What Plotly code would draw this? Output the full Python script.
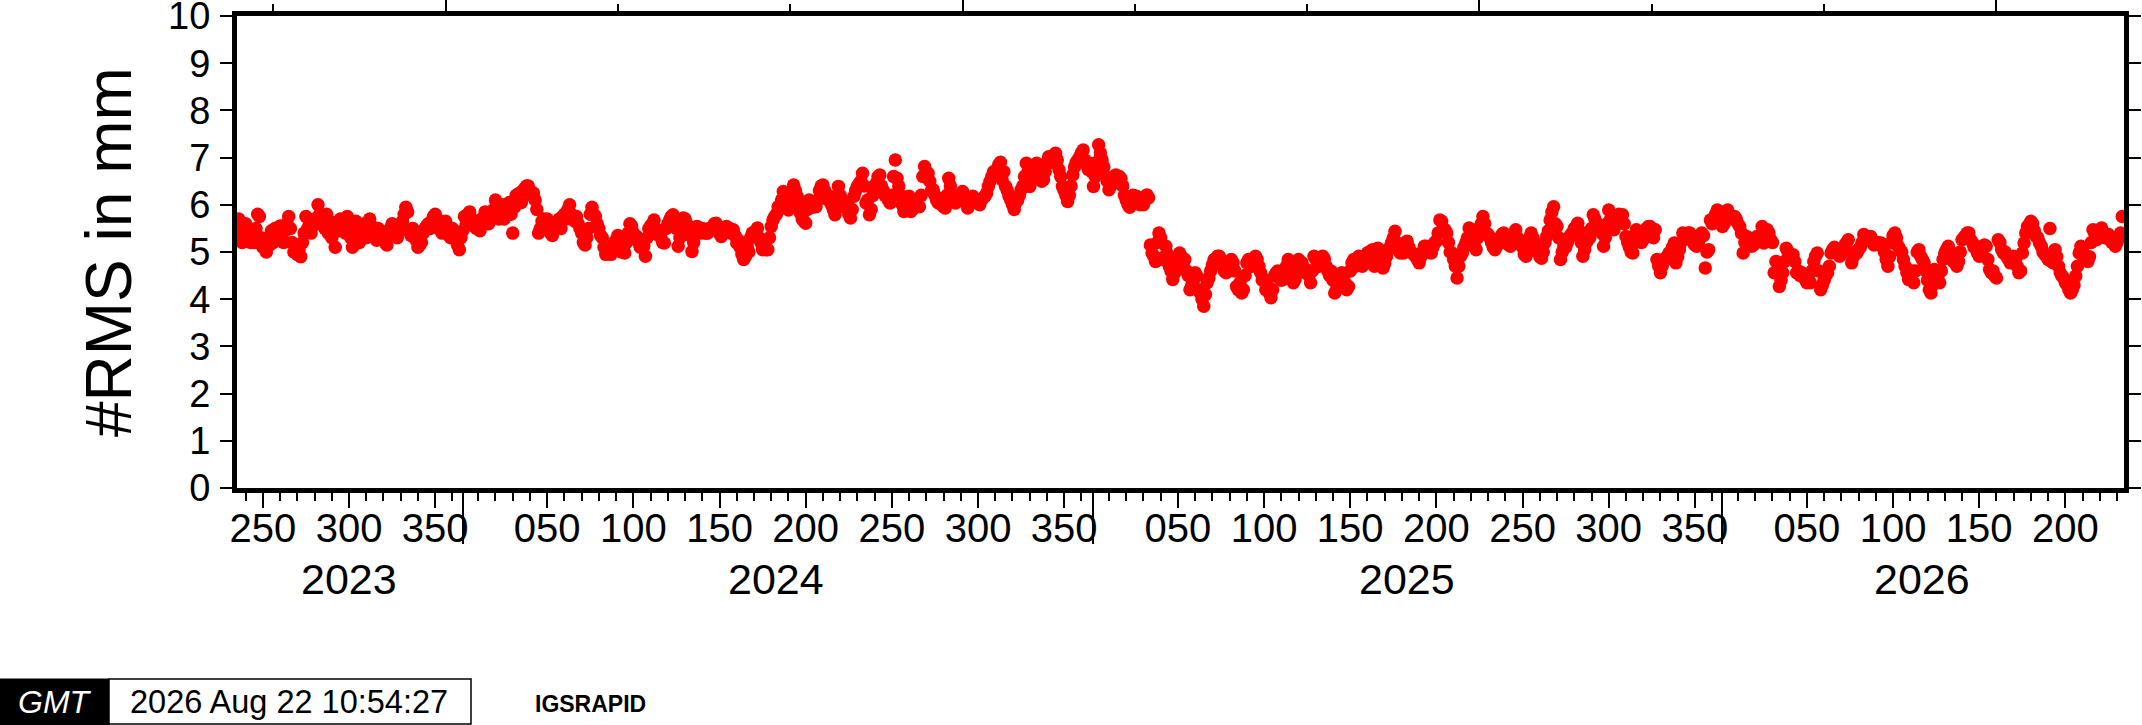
import datetime as dt

import plotly.graph_objects as go


# daily RMS values (mm), one value per day starting 2023-08-23
rms_seg1 = [
    5.3, 5.7, 5.5, 5.2, 5.4, 5.6, 5.3, 5.5, 5.2, 5.4,
    5.2, 5.5, 5.8, 5.75, 5.3, 5.1, 5.2, 5.0, 5.3, 5.15,
    5.45, 5.2, 5.5, 5.3, 5.4, 5.55, 5.3, 5.2, 5.45, 5.6,
    5.75, 5.5, 5.2, 5.0, 5.1, 4.95, 5.05, 4.9, 5.2, 5.4,
    5.75, 5.5, 5.6, 5.4, 5.55, 5.7, 5.6, 6.0, 5.8, 5.6,
    5.65, 5.5, 5.8, 5.4, 5.65, 5.3, 5.5, 5.1, 5.6, 5.45,
    5.7, 5.5, 5.6, 5.4, 5.75, 5.6, 5.3, 5.1, 5.45, 5.65,
    5.5, 5.2, 5.35, 5.5, 5.6, 5.3, 5.45, 5.7, 5.55, 5.35,
    5.4, 5.25, 5.5, 5.45, 5.3, 5.35, 5.2, 5.15, 5.4, 5.5,
    5.6, 5.55, 5.4, 5.3, 5.5, 5.45, 5.65, 5.8, 5.95, 5.85,
    5.45, 5.35, 5.5, 5.3, 5.25, 5.1, 5.15, 5.2, 5.4, 5.5,
    5.55, 5.6, 5.5, 5.65, 5.75, 5.8, 5.7, 5.5, 5.6, 5.4,
    5.5, 5.65, 5.45, 5.35, 5.3, 5.5, 5.4, 5.25, 5.15, 5.05,
    5.3, 5.45, 5.75, 5.6, 5.8, 5.85, 5.7, 5.55, 5.6, 5.5,
    5.65, 5.45, 5.7, 5.6, 5.85, 5.75, 5.6, 5.85, 5.7, 5.9,
    6.1, 5.95, 5.7, 5.8, 6.0, 5.7, 5.9, 6.0, 6.05, 5.8,
    5.4, 5.95, 6.2, 6.1, 6.25, 6.05, 6.3, 6.35, 6.4, 6.4,
    6.3, 6.2, 6.25, 6.1, 5.9, 5.4, 5.5, 5.65, 5.7, 5.55,
    5.7, 5.5, 5.4, 5.35, 5.6, 5.5, 5.65, 5.7, 5.5, 5.75,
    5.8, 5.7, 5.9, 6.0, 5.8, 5.75, 5.65, 5.75, 5.6, 5.5,
    5.4, 5.2, 5.15, 5.3, 5.5, 5.8, 5.95, 5.8, 5.75, 5.6,
    5.5, 5.35, 5.3, 5.1, 4.95, 5.0, 5.05, 4.95, 5.1, 5.2,
]
rms_seg2 = [
    5.25, 5.35, 5.15, 5.0, 5.1, 4.98, 5.2, 5.4, 5.6, 5.55,
    5.4, 5.3, 5.33, 5.2, 5.1, 5.15, 5.12, 4.91, 5.3, 5.5,
    5.55, 5.6, 5.68, 5.5, 5.37, 5.4, 5.3, 5.2, 5.19, 5.5,
    5.6, 5.68, 5.75, 5.79, 5.6, 5.5, 5.12, 5.3, 5.6, 5.72,
    5.7, 5.6, 5.4, 5.35, 5.01, 5.2, 5.5, 5.54, 5.45, 5.4,
    5.5, 5.45, 5.4, 5.4, 5.5, 5.47, 5.5, 5.6, 5.61, 5.5,
    5.4, 5.33, 5.4, 5.5, 5.54, 5.45, 5.5, 5.4, 5.47, 5.35,
    5.19, 5.25, 5.1, 4.95, 4.84, 4.9, 5.12, 5.0, 5.3, 5.4,
    5.33, 5.45, 5.51, 5.3, 5.2, 5.05, 5.1, 5.05, 5.05, 5.3,
    5.54, 5.68, 5.75, 5.8, 5.96, 5.96, 6.1, 6.28, 6.1, 6.0,
    5.89, 6.0, 6.2, 6.42, 6.3, 6.18, 6.0, 5.82, 5.7, 5.65,
    5.61, 5.9, 6.1, 6.0, 5.95, 6.05, 5.96, 6.1, 6.3, 6.4,
    6.42, 6.3, 6.2, 6.1, 6.18, 6.0, 5.9, 5.79, 6.1, 6.39,
    6.2, 6.1, 5.96, 6.0, 6.05, 5.8, 5.72, 5.9, 6.18, 6.3,
    6.39, 6.45, 6.5, 6.67, 6.4, 6.04, 6.1, 5.79, 5.9, 6.2,
    6.4, 6.46, 6.6, 6.63, 6.4, 6.3, 6.2, 6.18, 6.1, 6.04,
    6.2, 6.6, 6.95, 6.56, 6.4, 6.2, 6.0, 5.86, 6.0, 6.1,
    6.18, 5.86, 5.9, 6.0, 6.05, 6.0, 5.96, 6.2, 6.6, 6.81,
    6.7, 6.67, 6.5, 6.3, 6.32, 6.2, 6.1, 6.04, 6.1, 6.0,
    5.96, 5.93, 6.2, 6.56, 6.4, 6.2, 6.1, 6.04, 6.1, 6.15,
    6.2, 6.28, 6.2, 6.05, 5.93, 6.0, 6.1, 6.18, 6.1, 6.1,
    6.04, 6.0, 6.1, 6.15, 6.18, 6.25, 6.39, 6.5, 6.6, 6.7,
]
rms_seg3 = [
    6.67, 6.75, 6.85, 6.9, 6.53, 6.7, 6.39, 6.3, 6.18, 6.1,
    6.0, 5.9, 6.05, 6.1, 6.2, 6.32, 6.4, 6.6, 6.88, 6.7,
    6.39, 6.5, 6.6, 6.7, 6.88, 6.74, 6.6, 6.5, 6.53, 6.7,
    6.9, 7.02, 7.0, 6.9, 7.05, 7.09, 6.95, 6.74, 6.6, 6.39,
    6.3, 6.2, 6.07, 6.2, 6.4, 6.63, 6.8, 6.9, 6.95, 7.02,
    7.1, 7.16, 6.95, 6.85, 6.75, 6.88, 6.7, 6.39, 6.6, 6.9,
    7.27, 7.1, 6.95, 6.8, 6.6, 6.5, 6.32, 6.4, 6.5, 6.6,
    6.63, 6.5, 6.6, 6.55, 6.4, 6.2, 6.1, 6.0, 5.95, 6.1,
    6.2, 6.15, 6.18, 6.1, 6.0, 6.07, 6.0, 6.1, 6.21, 6.15,
    5.15, 4.98, 4.91, 4.8, 5.2, 5.4, 5.3, 4.84, 4.9, 5.12,
    4.95, 4.7, 4.6, 4.42, 4.55, 4.7, 4.85, 4.98, 4.9, 4.75,
    4.84, 4.6, 4.5, 4.2, 4.3, 4.4, 4.56, 4.49, 4.2, 4.13,
    4.0, 3.85, 4.1, 4.35, 4.45, 4.6, 4.73, 4.84, 4.8, 4.91,
    4.91, 4.8, 4.7, 4.59, 4.56, 4.7, 4.77, 4.84, 4.77, 4.6,
    4.27, 4.2, 4.35, 4.13, 4.2, 4.5, 4.77, 4.84, 4.77, 4.7,
    4.84, 4.91, 4.84, 4.7, 4.56, 4.4, 4.42, 4.2, 4.27, 4.13,
    4.03, 4.2, 4.49, 4.56, 4.6, 4.5, 4.4, 4.42, 4.55, 4.7,
    4.84, 4.77, 4.6, 4.35, 4.42, 4.6, 4.84, 4.7, 4.77, 4.65,
    4.56, 4.62, 4.5, 4.35, 4.6, 4.91, 4.85, 4.77, 4.7, 4.84,
    4.91, 4.85, 4.7, 4.6, 4.5, 4.59, 4.4, 4.13, 4.2, 4.27,
    4.4, 4.56, 4.45, 4.35, 4.2, 4.27, 4.6, 4.77, 4.84, 4.7,
    4.84, 4.91, 4.8, 4.7, 4.77, 4.84, 4.98, 5.0, 4.9, 5.05,
]
rms_seg4 = [
    4.7, 4.9, 5.08, 5.0, 4.85, 4.66, 4.75, 4.9, 5.05, 5.1,
    5.2, 5.3, 5.44, 5.2, 5.05, 4.98, 5.1, 4.98, 5.15, 5.23,
    5.1, 5.0, 4.98, 4.95, 4.9, 4.84, 4.77, 4.9, 5.0, 5.12,
    5.12, 5.05, 5.0, 4.98, 5.1, 5.2, 5.23, 5.4, 5.68, 5.65,
    5.5, 5.47, 5.4, 5.2, 5.0, 4.98, 4.84, 4.7, 4.45, 4.7,
    4.91, 4.98, 5.1, 5.19, 5.3, 5.51, 5.4, 5.2, 5.12, 5.05,
    5.3, 5.5, 5.6, 5.75, 5.6, 5.4, 5.37, 5.3, 5.2, 5.1,
    5.05, 5.12, 5.2, 5.3, 5.37, 5.4, 5.3, 5.2, 5.15, 5.12,
    5.2, 5.35, 5.47, 5.3, 5.26, 5.2, 5.1, 4.95, 4.91, 5.0,
    5.3, 5.4, 5.3, 5.2, 5.12, 5.0, 4.9, 4.87, 5.0, 5.2,
    5.33, 5.45, 5.68, 5.85, 5.96, 5.6, 5.54, 5.3, 4.84, 5.0,
    5.12, 5.1, 5.2, 5.3, 5.37, 5.4, 5.5, 5.54, 5.61, 5.45,
    5.2, 4.91, 5.05, 5.2, 5.26, 5.3, 5.5, 5.79, 5.7, 5.6,
    5.5, 5.47, 5.4, 5.12, 5.3, 5.6, 5.89, 5.7, 5.54, 5.47,
    5.6, 5.72, 5.8, 5.75, 5.79, 5.6, 5.33, 5.2, 5.1, 5.0,
    4.98, 5.2, 5.47, 5.4, 5.3, 5.2, 5.26, 5.4, 5.5, 5.54,
    5.54, 5.5, 5.3, 5.47, 4.84, 4.7, 4.56, 4.7, 4.8, 4.87,
    4.91, 4.98, 5.0, 5.1, 5.19, 4.77, 4.9, 5.05, 5.2, 5.4,
    5.37, 5.3, 5.4, 5.4, 5.35, 5.2, 5.15, 5.12, 5.2, 5.3,
    5.4, 5.35, 4.66, 5.0, 5.05, 5.68, 5.6, 5.7, 5.8, 5.89,
    5.8, 5.6, 5.54, 5.6, 5.7, 5.89, 5.8, 5.7, 5.75, 5.75,
    5.7, 5.6, 5.54, 5.4, 4.98, 5.2, 5.33, 5.3, 5.2, 5.12,
]
rms_seg5 = [
    5.15, 5.25, 5.33, 5.3, 5.3, 5.54, 5.19, 5.3, 5.47, 5.4,
    5.26, 5.2, 4.56, 4.8, 4.6, 4.27, 4.4, 4.56, 4.8, 5.08,
    5.0, 4.95, 4.9, 4.94, 4.8, 4.56, 4.6, 4.5, 4.56, 4.49,
    4.42, 4.35, 4.4, 4.35, 4.6, 4.8, 4.91, 4.98, 4.6, 4.2,
    4.3, 4.4, 4.5, 4.56, 4.7, 4.98, 5.05, 5.1, 5.05, 5.0,
    4.91, 4.95, 5.0, 5.15, 5.2, 5.26, 5.0, 4.77, 4.9, 5.0,
    4.98, 5.05, 5.1, 5.2, 5.37, 5.33, 5.26, 5.3, 5.33, 5.2,
    5.15, 5.19, 5.2, 5.15, 5.19, 5.12, 5.0, 4.84, 4.7, 4.9,
    5.2, 5.35, 5.4, 5.3, 5.12, 5.05, 5.0, 4.84, 4.7, 4.56,
    4.42, 4.5, 4.6, 4.35, 4.6, 5.0, 5.05, 4.91, 4.84, 4.77,
    4.6, 4.4, 4.2, 4.13, 4.3, 4.63, 4.5, 4.42, 4.35, 4.6,
    4.84, 4.98, 5.05, 5.12, 5.0, 4.91, 4.8, 4.77, 4.7, 4.8,
    5.0, 5.26, 5.3, 5.35, 5.4, 5.4, 5.26, 5.2, 5.1, 5.12,
    4.98, 4.91, 5.0, 5.08, 5.15, 5.12, 4.84, 4.63, 4.56, 4.6,
    4.49, 4.45, 5.26, 5.2, 5.05, 4.98, 5.0, 4.9, 4.84, 4.77,
    4.84, 4.91, 4.84, 4.7, 4.56, 4.6, 4.98, 5.19, 5.4, 5.54,
    5.58, 5.65, 5.6, 5.45, 5.33, 5.3, 5.19, 5.12, 5.0, 4.95,
    4.91, 4.84, 5.5, 4.8, 4.77, 5.05, 4.9, 4.7, 4.56, 4.49,
    4.45, 4.35, 4.3, 4.2, 4.13, 4.2, 4.3, 4.49, 4.7, 4.98,
    5.12, 5.05, 4.84, 4.91, 4.8, 4.9, 5.2, 5.47, 5.4, 5.26,
    5.3, 5.45, 5.51, 5.33, 5.3, 5.3, 5.37, 5.26, 5.2, 5.3,
    5.12, 5.2, 5.3, 5.4, 5.75,
]

start = dt.date(2023, 8, 23)
end = dt.date(2026, 8, 22)
years = [2023, 2024, 2025, 2026]
timestamp = "2026 Aug 22 10:54:27"
label = "IGSRAPID"

rms = rms_seg1 + rms_seg2 + rms_seg3 + rms_seg4 + rms_seg5
dates = [start + dt.timedelta(days=i) for i in range(len(rms))]

# day-of-year ticks (bottom)
doy_vals, doy_text, doy_minor = [], [], []
for yr in years:
    jan1 = dt.date(yr, 1, 1)
    for doy in range(10, 370, 10):
        d = jan1 + dt.timedelta(days=doy - 1)
        if d.year != yr or not (start <= d <= end):
            continue
        if doy % 50 == 0:
            doy_vals.append(d)
            doy_text.append(f"{doy:03d}")
        else:
            doy_minor.append(d)
year_bounds = [dt.date(yr, 1, 1) for yr in years if start < dt.date(yr, 1, 1) < end]

# MJD ticks (top)
mjd0 = dt.date(1858, 11, 17)
mjd_major, mjd_minor = [], []
for m in range(60000, 61500, 100):
    d = mjd0 + dt.timedelta(days=m)
    if start <= d <= end:
        (mjd_major if m % 300 == 0 else mjd_minor).append(d)

FONT = "Liberation Sans"
W, H = 2142, 725
L, R, T, B = 237, 18, 16, 237
pw, ph = W - L - R, H - T - B


def px(x):
    return (x - L) / pw


def py(y):
    return (H - B - y) / ph


fig = go.Figure()
fig.add_trace(go.Scatter(
    x=dates, y=rms, mode="markers",
    marker=dict(size=13.5, color="#ff0000", line=dict(width=0)),
    hoverinfo="x+y",
))
# empty traces so the extra tick axes are drawn
for ax in ("x2", "x3", "x4"):
    fig.add_trace(go.Scatter(x=[], y=[], xaxis=ax, yaxis="y", showlegend=False))

common = dict(type="date", range=[start, end], showgrid=False, zeroline=False,
              automargin=False)

fig.update_layout(
    width=W, height=H,
    margin=dict(l=L, r=R, t=T, b=B, autoexpand=False),
    paper_bgcolor="white", plot_bgcolor="white",
    showlegend=False,
    font=dict(family=FONT, color="black"),
    xaxis=dict(
        **common,
        tickmode="array", tickvals=doy_vals,
        ticks="outside", ticklen=15, tickwidth=2, tickcolor="black",
        showticklabels=False,
        showline=True, linewidth=5, linecolor="black",
        minor=dict(tickmode="array", tickvals=doy_minor, ticks="outside",
                   ticklen=8, tickwidth=2, tickcolor="black", showgrid=False),
    ),
    xaxis2=dict(
        **common, overlaying="x", side="top", anchor="y",
        tickmode="array", tickvals=mjd_major,
        ticks="outside", ticklen=14, tickwidth=2, tickcolor="black",
        showticklabels=False,
        showline=True, linewidth=5, linecolor="black",
        minor=dict(tickmode="array", tickvals=mjd_minor, ticks="outside",
                   ticklen=7, tickwidth=2, tickcolor="black", showgrid=False),
    ),
    xaxis3=dict(
        **common, overlaying="x", side="bottom", anchor="y",
        tickmode="array", tickvals=year_bounds,
        ticks="outside", ticklen=55, tickwidth=2, tickcolor="black",
        showticklabels=False, showline=False,
    ),
    xaxis4=dict(
        **common, overlaying="x", side="bottom", anchor="y",
        tickmode="array", tickvals=doy_vals, ticktext=doy_text,
        ticks="", tickfont=dict(size=40), ticklabelstandoff=13,
        showline=False,
    ),
    yaxis=dict(
        range=[0, 10], tickmode="linear", tick0=0, dtick=1,
        ticks="outside", ticklen=12, tickwidth=2, tickcolor="black",
        tickfont=dict(size=38), ticklabelstandoff=2,
        ticklabeloverflow="allow",
        showline=True, linewidth=5, linecolor="black", mirror="ticks",
        showgrid=False, zeroline=False, automargin=False,
    ),
)

annotations = [
    dict(text="#RMS in mm", xref="paper", yref="paper", x=px(109), y=0.5,
         textangle=-90, showarrow=False, font=dict(size=64),
         xanchor="center", yanchor="middle"),
]
for yr in years:
    a = max(start, dt.date(yr, 1, 1))
    b = min(end, dt.date(yr, 12, 31))
    mid = a + (b - a) / 2
    annotations.append(dict(
        text=str(yr), x=mid, xref="x", y=py(579), yref="paper",
        showarrow=False, font=dict(size=43),
        xanchor="center", yanchor="middle",
    ))

# GMT-style timestamp strip
annotations += [
    dict(text="<i>GMT</i>", xref="paper", yref="paper", x=px(55), y=py(702),
         showarrow=False, font=dict(size=32, color="white"),
         xanchor="center", yanchor="middle"),
    dict(text=timestamp, xref="paper", yref="paper", x=px(128), y=py(702),
         showarrow=False, font=dict(size=32.5), xanchor="left", yanchor="middle"),
    dict(text=f"<b>{label}</b>", xref="paper", yref="paper", x=px(533), y=py(704),
         showarrow=False, font=dict(size=23), xanchor="left", yanchor="middle"),
]
fig.update_layout(annotations=annotations)

fig.update_layout(shapes=[
    dict(type="rect", xref="paper", yref="paper",
         x0=px(0), x1=px(109), y0=py(725), y1=py(679),
         fillcolor="black", line=dict(color="black", width=1)),
    dict(type="rect", xref="paper", yref="paper",
         x0=px(109), x1=px(471), y0=py(724), y1=py(679),
         fillcolor="white", line=dict(color="black", width=1.5)),
])

# drop the browser's default page margin so the figure sits at the corner
fig.write_html("out.html", config={"displayModeBar": False},
               post_script="document.body.style.margin = '0';")
